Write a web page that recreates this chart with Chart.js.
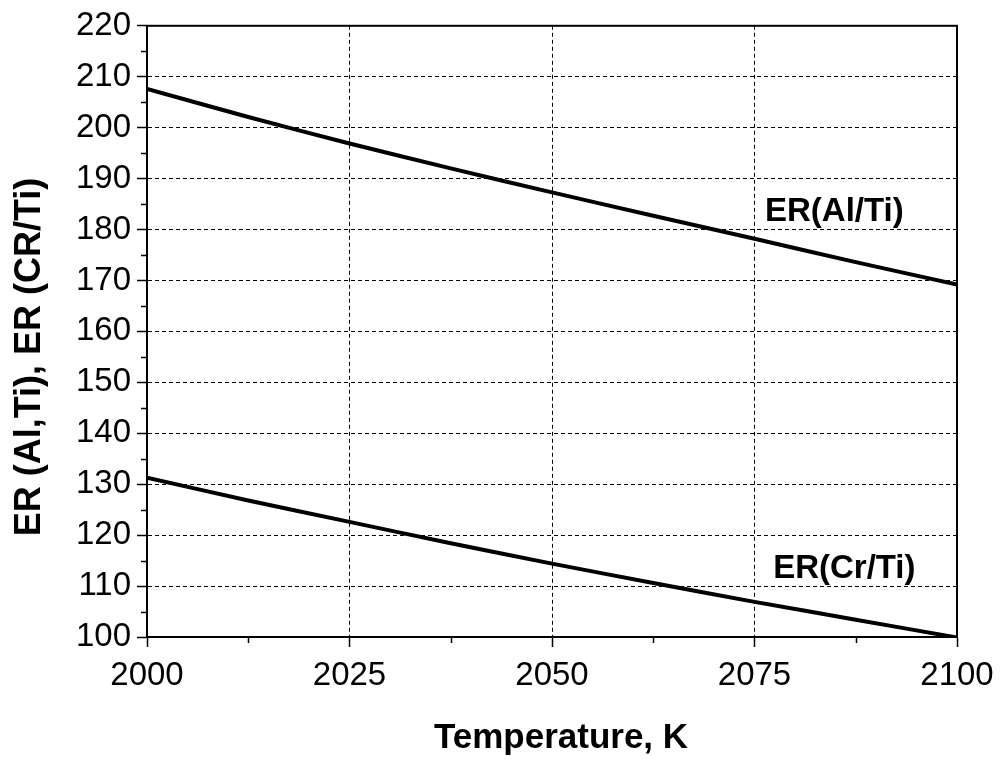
<!DOCTYPE html>
<html>
<head>
<meta charset="utf-8">
<script src="https://cdn.jsdelivr.net/npm/chart.js@4/dist/chart.umd.min.js"></script>
<style>
  html, body { margin: 0; padding: 0; background: #fff; }
  #wrap { width: 1004px; height: 771px; }
</style>
</head>
<body>
<div id="wrap"><canvas id="chart" width="1004" height="771"></canvas></div>
<script>
// --- data ---
const temps = [2000, 2012.5, 2025, 2037.5, 2050, 2062.5, 2075, 2087.5, 2100];
const erAlTi = [207.6, 202.1, 196.9, 192.0, 187.3, 182.7, 178.2, 173.6, 169.2];
const erCrTi = [131.3, 126.8, 122.6, 118.4, 114.4, 110.6, 106.9, 103.4, 99.9];

const xMinorTicks = [2012.5, 2037.5, 2062.5, 2087.5];
const yMinorTicks = [105, 115, 125, 135, 145, 155, 165, 175, 185, 195, 205, 215];

const xTitle = "Temperature, K";
const yTitle = "ER (Al,Ti), ER (CR/Ti)";
const seriesLabels = [
  { text: "ER(Al/Ti)", x: 2076.3, y: 181.6 },
  { text: "ER(Cr/Ti)", x: 2077.3, y: 111.6 }
];

const FONT = "'Liberation Sans', Arial, Helvetica, sans-serif";

function toPoints(xs, ys) {
  return xs.map((x, i) => ({ x: x, y: ys[i] }));
}

// frame, minor ticks, axis titles and curve labels
const decorations = {
  id: "decorations",
  afterDraw(chart) {
    const ctx = chart.ctx;
    const a = chart.chartArea;
    const sx = chart.scales.x, sy = chart.scales.y;
    ctx.save();
    ctx.strokeStyle = "#000";

    // box round the plot
    ctx.lineWidth = 2;
    ctx.strokeRect(a.left, a.top, a.right - a.left, a.bottom - a.top);

    // minor ticks (outside)
    ctx.lineWidth = 1.5;
    ctx.beginPath();
    xMinorTicks.forEach(v => {
      const px = Math.round(sx.getPixelForValue(v)) + 0.5;
      ctx.moveTo(px, a.bottom);
      ctx.lineTo(px, a.bottom + 6);
    });
    yMinorTicks.forEach(v => {
      const py = Math.round(sy.getPixelForValue(v)) + 0.5;
      ctx.moveTo(a.left, py);
      ctx.lineTo(a.left - 6, py);
    });
    ctx.stroke();

    ctx.fillStyle = "#000";
    // x title
    ctx.font = "bold 35px " + FONT;
    ctx.textAlign = "center";
    ctx.textBaseline = "alphabetic";
    ctx.fillText(xTitle, (a.left + a.right) / 2 + 9, 748);

    // y title
    ctx.save();
    ctx.translate(40, 357);
    ctx.rotate(-Math.PI / 2);
    ctx.font = "bold 36px " + FONT;
    ctx.fillText(yTitle, 0, 0);
    ctx.restore();

    // curve labels
    ctx.font = "bold 33px " + FONT;
    ctx.textAlign = "left";
    seriesLabels.forEach(l => {
      ctx.fillText(l.text, sx.getPixelForValue(l.x), sy.getPixelForValue(l.y));
    });
    ctx.restore();
  }
};

new Chart(document.getElementById("chart"), {
  type: "line",
  data: {
    datasets: [
      {
        label: "ER(Al/Ti)",
        data: toPoints(temps, erAlTi),
        borderColor: "#000",
        borderWidth: 4,
        pointRadius: 0,
        tension: 0.2
      },
      {
        label: "ER(Cr/Ti)",
        data: toPoints(temps, erCrTi),
        borderColor: "#000",
        borderWidth: 4,
        pointRadius: 0,
        tension: 0.2
      }
    ]
  },
  options: {
    responsive: false,
    animation: false,
    layout: { padding: { top: 25, right: 47, left: 0, bottom: 0 } },
    plugins: {
      legend: { display: false },
      tooltip: { enabled: false }
    },
    scales: {
      x: {
        type: "linear",
        min: 2000,
        max: 2100,
        afterFit: s => { s.height = 134; },
        ticks: {
          stepSize: 25,
          color: "#000",
          padding: 9,
          maxRotation: 0,
          font: { family: FONT, size: 33 },
          callback: v => String(v)
        },
        grid: {
          color: "#000",
          lineWidth: 1,
          drawTicks: true,
          tickLength: 10,
          tickWidth: 1.5,
          tickColor: "#000",
          tickBorderDash: []
        },
        border: { display: true, color: "#000", width: 2, dash: [4, 3] }
      },
      y: {
        min: 100,
        max: 220,
        afterFit: s => { s.width = 147; },
        ticks: {
          stepSize: 10,
          color: "#000",
          padding: 6,
          font: { family: FONT, size: 33 },
          callback: v => String(v)
        },
        grid: {
          color: "#000",
          lineWidth: 1,
          drawTicks: true,
          tickLength: 10,
          tickWidth: 1.5,
          tickColor: "#000",
          tickBorderDash: []
        },
        border: { display: true, color: "#000", width: 2, dash: [4, 3] }
      }
    }
  },
  plugins: [decorations]
});
</script>
</body>
</html>
